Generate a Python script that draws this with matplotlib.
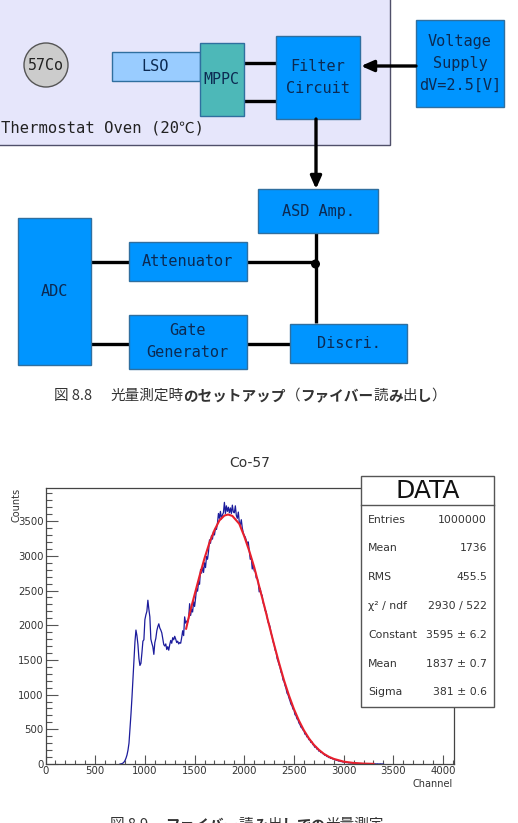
import numpy as np
import matplotlib
matplotlib.use("Agg")
import matplotlib.pyplot as plt
from matplotlib.patches import Rectangle, Circle
from matplotlib.ticker import MultipleLocator

W, H = 518, 823

# spectrum, channels 750 .. 3400 every 10
channels = np.arange(750, 3410, 10)
counts = [
    0, 2, 6, 14, 28, 50, 85, 130, 200, 300, 500, 720, 960, 1230, 1500,
    1760, 1930, 1850, 1720, 1520, 1420, 1450, 1600, 1770, 1790,
    2080, 2150, 2200, 2360, 2230, 2120, 1800, 1740, 1690, 1580,
    1750, 1810, 1920, 1980, 2020, 1960, 1930, 1890, 1800, 1720,
    1700, 1730, 1650, 1690, 1640, 1720, 1780, 1740, 1820, 1790,
    1840, 1800, 1750, 1770, 1730, 1750, 1740, 1820, 1920, 1850,
    2120, 2030, 2060, 2040, 2100, 2310, 2140, 2230, 2190, 2340,
    2270, 2390, 2530, 2490, 2620, 2590, 2800, 2750, 2840, 2760,
    2900, 2830, 2990, 2950, 3060, 3230, 3180, 3290, 3240, 3350,
    3300, 3400, 3380, 3470, 3610, 3540, 3640, 3530, 3590, 3620,
    3770, 3610, 3720, 3640, 3700, 3620, 3690, 3610, 3730, 3630,
    3620, 3720, 3580, 3540, 3630, 3480, 3440, 3520, 3400, 3330,
    3290, 3270, 3220, 3180, 3200, 3080, 2950, 2990, 2810, 2880,
    2780, 2790, 2680, 2680, 2620, 2480, 2530, 2450, 2430, 2320,
    2290, 2210, 2200, 2110, 2040, 2020, 1970, 1880, 1840, 1760,
    1730, 1640, 1620, 1520, 1480, 1430, 1390, 1320, 1290, 1210,
    1190, 1130, 1090, 1020, 1000, 950, 910, 860, 840, 790,
    780, 710, 700, 650, 640, 590, 570, 530, 520, 490,
    480, 430, 430, 390, 390, 350, 350, 310, 320, 280,
    270, 240, 250, 215, 220, 185, 195, 165, 170, 150,
    145, 125, 130, 108, 110, 92, 95, 80, 82, 72,
    72, 60, 60, 52, 50, 42, 44, 36, 36, 30,
    30, 26, 26, 20, 22, 16, 18, 14, 16, 12,
    12, 10, 10, 8, 8, 6, 6, 6, 6, 4,
    4, 4, 4, 2, 2, 2, 2, 2, 2, 2,
    2, 0, 2, 0, 2, 0, 0, 2, 0, 0,
    0,
]

fit_channel = [1415, 1450, 1500, 1550, 1600, 1650, 1700, 1750, 1800, 1837, 1880, 1950,
               2000, 2050, 2100, 2150, 2200, 2250, 2300, 2350, 2400, 2450, 2500, 2550,
               2600, 2650, 2700, 2750, 2800, 2850, 2900, 3000, 3100, 3200, 3300]
fit_counts = [1950, 2170, 2440, 2710, 2965, 3190, 3370, 3510, 3580, 3595, 3575, 3460,
              3280, 3070, 2835, 2560, 2285, 2000, 1720, 1455, 1205, 985, 790, 625,
              485, 370, 277, 205, 147, 105, 74, 34, 15, 6, 2]

stat_names = ["Entries", "Mean", "RMS", "χ² / ndf", "Constant", "Mean", "Sigma"]
stat_values = ["1000000", "1736", "455.5", "2930 / 522", "3595 ± 6.2", "1837 ± 0.7", "381 ± 0.6"]

blue = "#0095ff"
edge = "#2f6f9f"
ink = "#0c2a52"

fig = plt.figure(figsize=(W / 100, H / 100), dpi=100)

# page axes in pixel coordinates, for the block diagram and captions
page = fig.add_axes([0, 0, 1, 1])
page.set_xlim(0, W)
page.set_ylim(H, 0)
page.axis("off")


def box(x0, y0, x1, y1, label, face=blue, ec=edge, size=11):
    page.add_patch(Rectangle((x0, y0), x1 - x0, y1 - y0, fc=face, ec=ec, lw=1, zorder=3))
    if label:
        page.text((x0 + x1) / 2, (y0 + y1) / 2, label, family="DejaVu Sans Mono", fontsize=size,
                  color=ink, ha="center", va="center", linespacing=1.55, zorder=4)


def wire(x0, y0, x1, y1):
    page.plot([x0, x1], [y0, y1], color="black", lw=2.4, solid_capstyle="butt", zorder=2)


def arrow(x0, y0, x1, y1):
    page.annotate("", xy=(x1, y1), xytext=(x0, y0), zorder=5,
                  arrowprops=dict(arrowstyle="-|>,head_width=0.33,head_length=0.75", color="black",
                                  lw=2.4, shrinkA=0, shrinkB=0))


page.add_patch(Rectangle((-3, -3), 392.5, 148, fc="#e6e6fb", ec="#50506a", lw=1, zorder=1))
page.add_patch(Circle((46, 65), 22, fc="#cccccc", ec="#555555", lw=1, zorder=3))
page.text(46, 65, "57Co", family="DejaVu Sans Mono", fontsize=10.8, color="#222222",
          ha="center", va="center", zorder=4)
box(111.5, 52, 199.5, 81, "LSO", face="#99ccff")
box(199.5, 43, 243.5, 116, "MPPC", face="#4db8b8", size=10.8)
box(275.5, 36, 359.5, 119, "Filter\nCircuit")
box(416, 19.5, 504, 107, "Voltage\nSupply\ndV=2.5[V]")
page.text(1, 128, "Thermostat Oven (20℃)", family=["DejaVu Sans Mono", "Noto Sans CJK JP"],
          fontsize=11.2, color="#222222", ha="left", va="center", zorder=4)

box(258, 189, 378, 233, "ASD Amp.")
box(18, 218, 91, 364.5, "ADC")
box(129, 242, 246.5, 281, "Attenuator")
box(129, 315, 246.5, 368.5, "Gate\nGenerator")
box(290, 323.5, 407, 363, "Discri.")

wire(243, 63, 276, 63)
wire(243, 101, 276, 101)
wire(91, 262, 129, 262)
wire(91, 344, 129, 344)
wire(246, 262, 316, 262)
wire(246, 344, 290, 344)
wire(316, 233, 316, 323)
page.add_patch(Circle((315.5, 264), 4.5, fc="black", ec="none", zorder=3))
arrow(416, 66, 361, 66)
arrow(316, 119, 316, 189)


def caption(y, x, parts):
    # captions mix regular kanji with heavy kana, placed run by run
    for text, weight in parts:
        t = page.text(x, y, text, family=["Noto Sans CJK JP", "DejaVu Sans"], fontsize=10.5,
                      fontweight=weight, color="#333333", ha="left", va="center")
        fig.canvas.draw()
        x = t.get_window_extent().x1 * W / fig.bbox.width


caption(396, 54, [("図 8.8", "normal")])
caption(396, 110, [("光量測定時", "normal"), ("のセットアップ", "bold"),
                   ("（", "normal"), ("ファイバー", "bold"), ("読", "normal"), ("み", "bold"),
                   ("出", "normal"), ("し", "bold"), ("）", "normal")])
caption(825, 110, [("図 8.9", "normal")])
caption(825, 165, [("ファイバー", "bold"), ("読", "normal"), ("み", "bold"),
                   ("出", "normal"), ("し", "bold"), ("での", "bold"), ("光量測定", "normal")])

# Co-57 spectrum
ax = fig.add_axes([45.5 / W, 1 - 764 / H, (454 - 45.5) / W, (764 - 488) / H])
ax.patch.set_alpha(0)
ax.set_xlim(0, 4110)
ax.set_ylim(0, 3977)
ax.plot(channels, counts, color="#1c1c9c", lw=0.9)
ax.plot(fit_channel, fit_counts, color="#e8202c", lw=1.5)

for side in ax.spines.values():
    side.set_color("#444444")
    side.set_linewidth(0.9)
ax.xaxis.set_major_locator(MultipleLocator(500))
ax.xaxis.set_minor_locator(MultipleLocator(100))
ax.yaxis.set_major_locator(MultipleLocator(500))
ax.yaxis.set_minor_locator(MultipleLocator(100))
ax.tick_params(axis="x", which="major", direction="in", length=6.2, width=0.8, color="#555555",
               labelsize=7.3, labelcolor="#333333", pad=1.5)
ax.tick_params(axis="x", which="minor", direction="in", length=3, width=0.8, color="#555555")
ax.tick_params(axis="y", which="major", direction="in", length=8.6, width=0.8, color="#555555",
               labelsize=7.3, labelcolor="#333333", pad=1.5)
ax.tick_params(axis="y", which="minor", direction="in", length=4.3, width=0.8, color="#555555")

page.text(250, 463, "Co-57", fontsize=10, color="#333333", ha="center", va="center")
page.text(453, 784, "Channel", fontsize=7, color="#333333", ha="right", va="center")
page.text(17, 505, "Counts", fontsize=7, color="#333333", ha="center", va="center", rotation=90)

# statistics panel, above the spectrum axes
over = fig.add_axes([0, 0, 1, 1])
over.set_xlim(0, W)
over.set_ylim(H, 0)
over.axis("off")
over.add_patch(Rectangle((361, 475.5), 133, 231.5, fc="white", ec="#555555", lw=1))
over.plot([361, 494], [505, 505], color="#555555", lw=1)
over.text(427.5, 490.5, "DATA", fontsize=18, color="#111111", ha="center", va="center")
row_y = [520, 548, 577, 606, 635, 664, 692]
for y, name, value in zip(row_y, stat_names, stat_values):
    over.text(368, y, name, fontsize=7.8, color="#333333", ha="left", va="center")
    over.text(487, y, value, fontsize=7.8, color="#333333", ha="right", va="center")

fig.savefig("out.png", dpi=100)
